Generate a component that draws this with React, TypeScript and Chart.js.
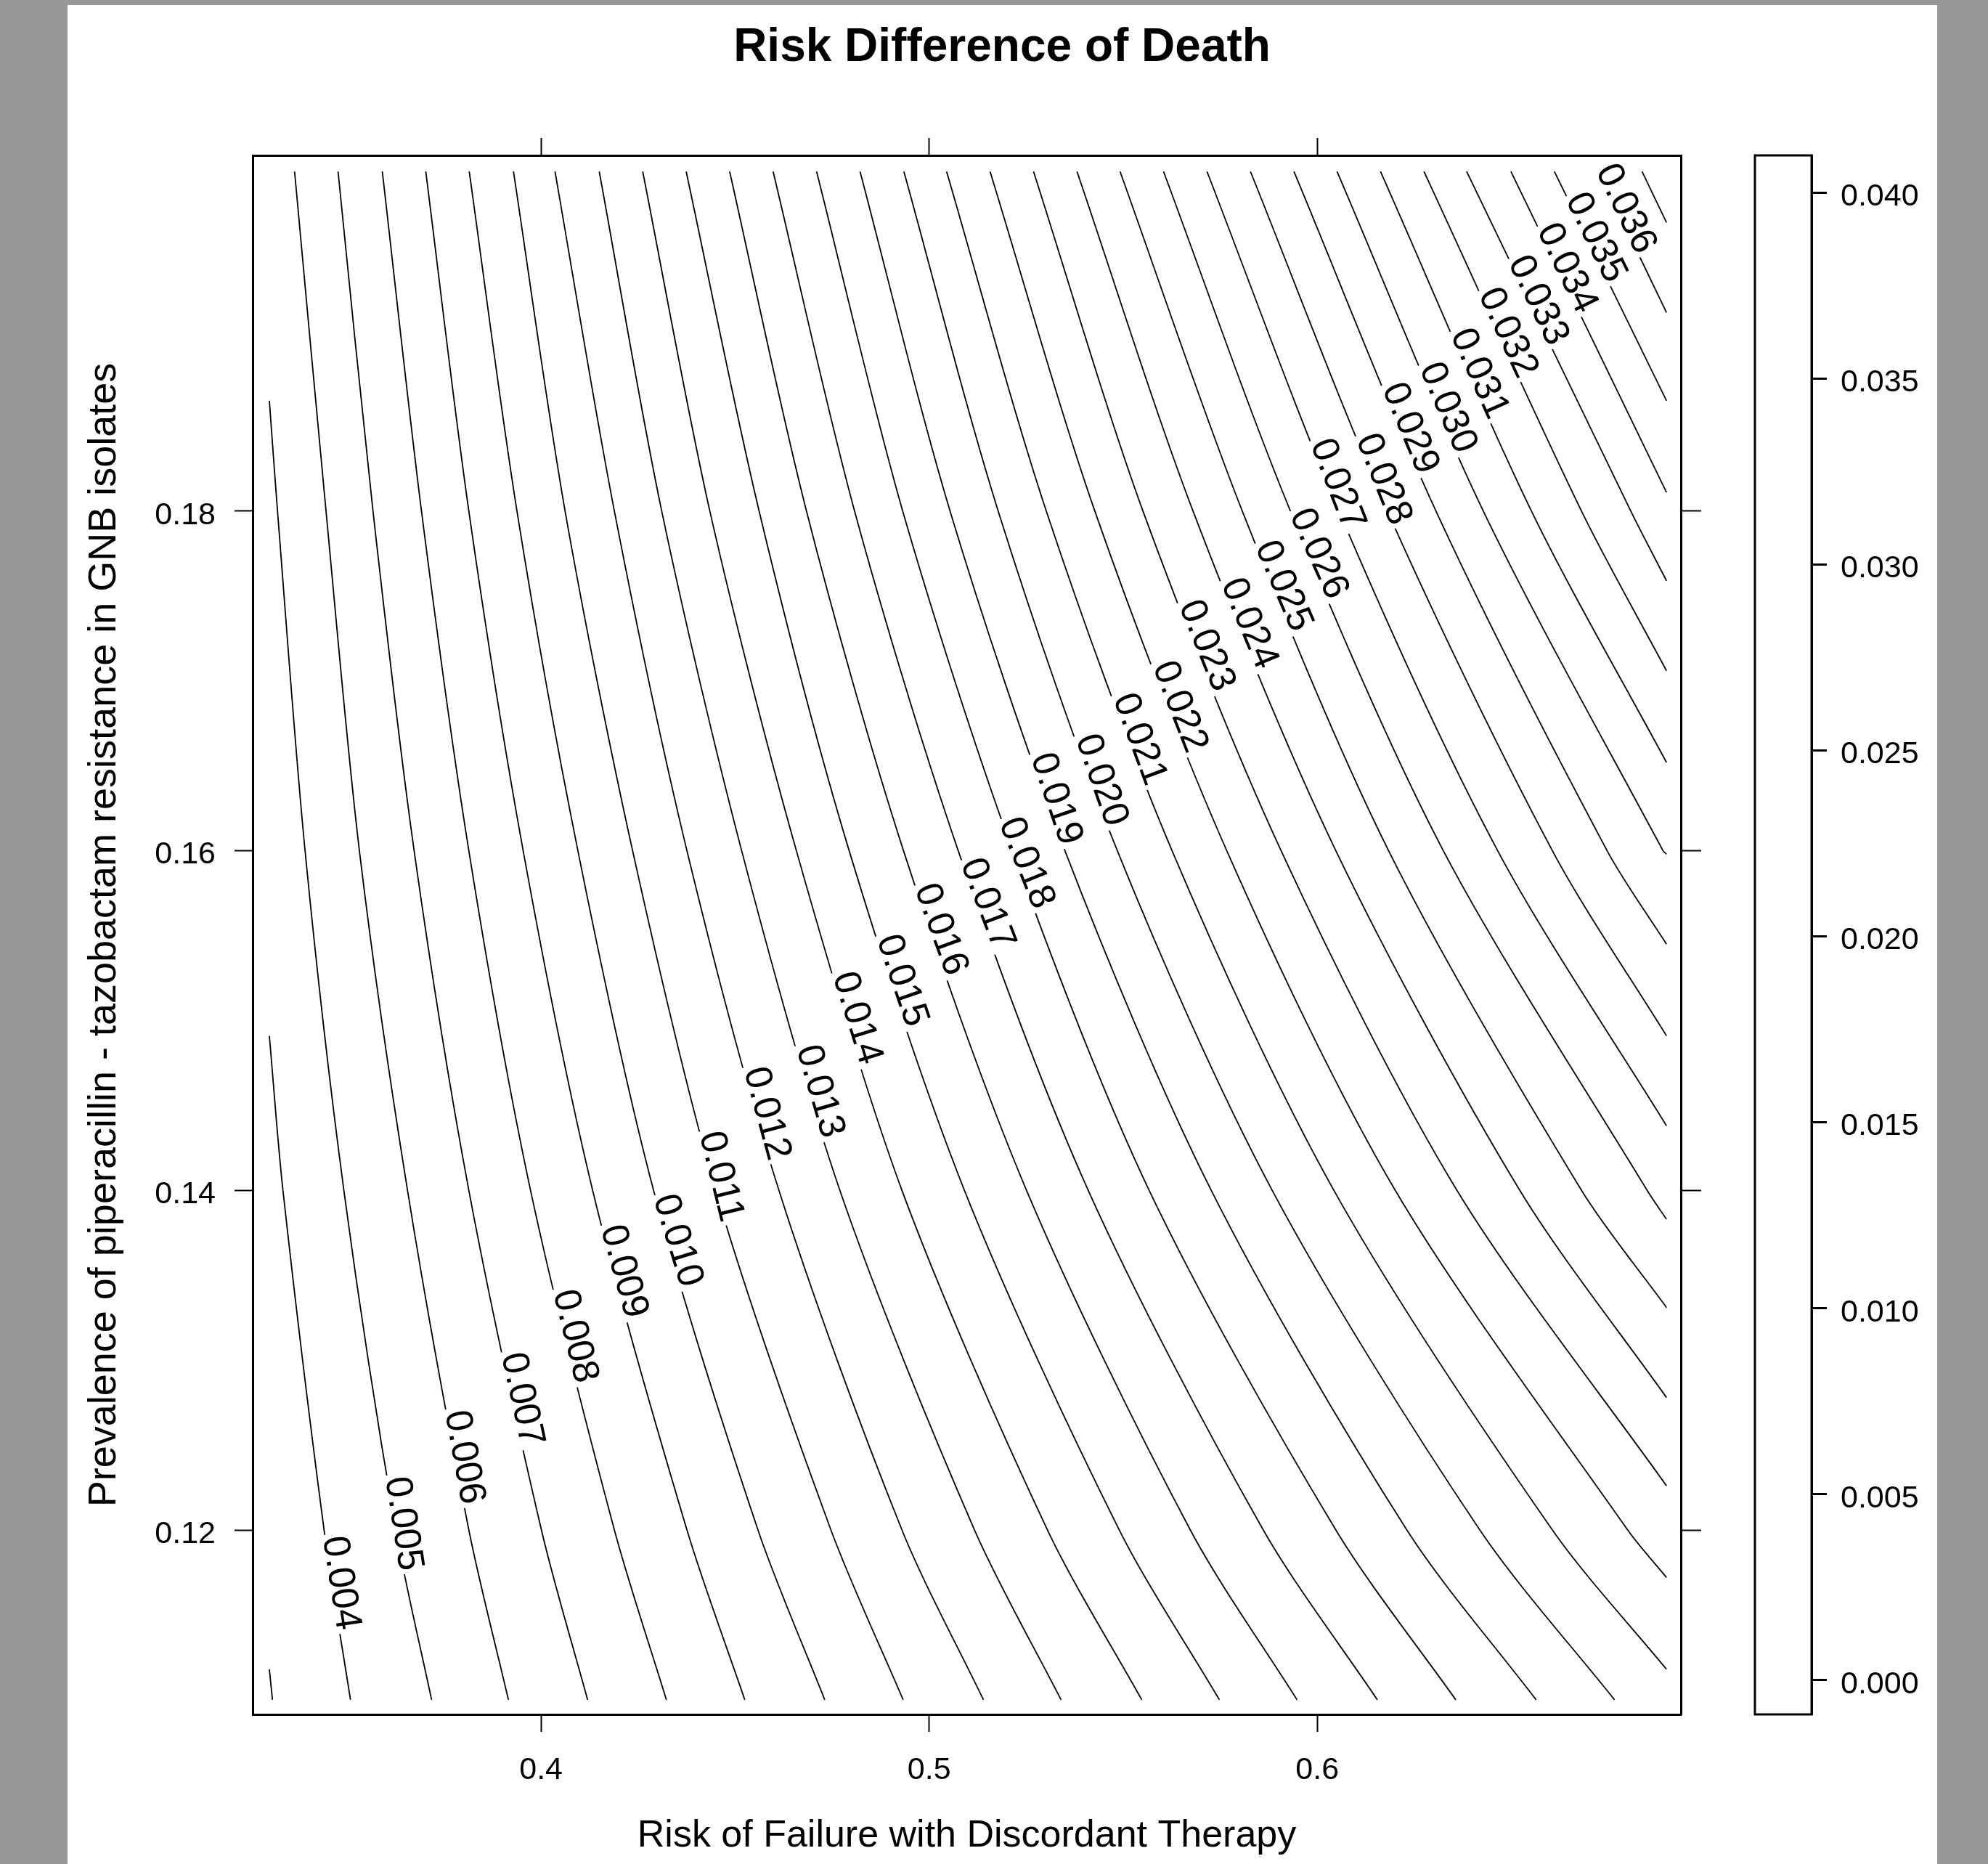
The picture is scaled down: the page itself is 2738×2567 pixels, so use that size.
import React, { useEffect, useRef } from "react";
import { Chart, registerables } from "chart.js";

Chart.register(...registerables);

const FONT = "'Liberation Sans', Arial, Helvetica, sans-serif";

// ---------------- data ----------------
const chartTitle = "Risk Difference of Death";
const xTitle = "Risk of Failure with Discordant Therapy";
const yTitle = "Prevalence of piperacillin - tazobactam resistance in GNB isolates";

const contourLevels = [
  0.003, 0.004, 0.005, 0.006, 0.007, 0.008, 0.009, 0.01, 0.011, 0.012, 0.013, 0.014,
  0.015, 0.016, 0.017, 0.018, 0.019, 0.02, 0.021, 0.022, 0.023, 0.024, 0.025, 0.026,
  0.027, 0.028, 0.029, 0.03, 0.031, 0.032, 0.033, 0.034, 0.035, 0.036, 0.037,
];

// y values of the rows where each contour's x position was read
const rowY = [0.2, 0.18, 0.16, 0.14, 0.12, 0.11];

// x position of each contour level on each row (null = contour not on that row)
const xAtY020 = [
  null, null, null, 0.3365, 0.3477, 0.3591, 0.3703, 0.3815, 0.3929, 0.4036, 0.415, 0.4262,
  0.4374, 0.4486, 0.4598, 0.471, 0.4822, 0.4935, 0.5045, 0.5157, 0.5269, 0.5381, 0.5492, 0.5604,
  0.5716, 0.5828, 0.594, 0.6051, 0.6163, 0.6275, 0.6385, 0.6499, 0.6611, 0.6725, 0.6837,
];
const xAtY018 = [
  null, null, 0.3321, 0.3446, 0.3567, 0.3692, 0.3814, 0.3938, 0.4062, 0.4189, 0.4311, 0.4435,
  0.4562, 0.4684, 0.4808, 0.4932, 0.5054, 0.5178, 0.5302, 0.5427, 0.5551, 0.568, 0.5807, 0.5931,
  0.6056, 0.6181, 0.6306, 0.6428, 0.6552, 0.6681, 0.6808, null, null, null, null,
];
const xAtY016 = [
  null, null, 0.3392, 0.3532, 0.3673, 0.3814, 0.3954, 0.4095, 0.4236, 0.4376, 0.4517, 0.4658,
  0.4794, 0.4934, 0.5075, 0.5215, 0.535, 0.5485, 0.5626, 0.5767, 0.5907, 0.6048, 0.6184, 0.6325,
  0.6465, 0.6606, 0.6747, 0.6891, null, null, null, null, null, null, null,
];
const xAtY014 = [
  null, 0.3335, 0.3492, 0.3656, 0.3814, 0.3973, 0.4133, 0.429, 0.445, 0.4613, 0.477, 0.493,
  0.5091, 0.5251, 0.541, 0.5567, 0.5727, 0.5884, 0.6043, 0.6201, 0.636, 0.6522, 0.6681, 0.685,
  null, null, null, null, null, null, null, null, null, null, null,
];
const xAtY012 = [
  null, 0.3441, 0.3626, 0.3814, 0.4001, 0.4189, 0.4376, 0.4559, 0.4747, 0.493, 0.5117, 0.5305,
  0.549, 0.5673, 0.5861, 0.6048, 0.6231, 0.6419, 0.6606, 0.68, null, null, null, null,
  null, null, null, null, null, null, null, null, null, null, null,
];
const xAtY011 = [
  0.3308, 0.3509, 0.3718, 0.3916, 0.412, 0.4323, 0.4525, 0.4731, 0.4933, 0.514, 0.534, 0.5548,
  0.5748, 0.5948, 0.6155, 0.6357, 0.6564, 0.6766, null, null, null, null, null, null,
  null, null, null, null, null, null, null, null, null, null, null,
];

// x extent of the computed grid (contours end there)
const gridXRange = [0.33, 0.69];

// y where a contour leaves the grid on its left / right side
const leftExitY = [
  0.1118, 0.1491, 0.1865, null, null, null, null, null, null, null, null, null,
  null, null, null, null, null, null, null, null, null, null, null, null,
  null, null, null, null, null, null, null, null, null, null, null,
];
const rightExitY = [
  null, null, null, null, null, null, null, null, null, null, null, null,
  null, null, null, null, null, null, 0.1118, 0.1172, 0.1226, 0.1278, 0.1331, 0.1383,
  0.1438, 0.1491, 0.1545, 0.1598, 0.1652, 0.1706, 0.1759, 0.1811, 0.1865, 0.1917, 0.197,
];

// y value at which each contour carries its label
const labelY = [
  null, 0.1168, 0.1203, 0.1242, 0.1276, 0.1313, 0.1351, 0.1369, 0.1407, 0.1444, 0.1457, 0.15,
  0.1522, 0.1552, 0.1567, 0.1591, 0.1629, 0.164, 0.1664, 0.1683, 0.1719, 0.1732, 0.1754, 0.1773,
  0.1814, 0.1817, 0.1847, 0.1859, 0.1879, 0.1903, 0.1922, 0.1941, 0.1959, 0.1976, null,
];

const xTicks = [0.4, 0.5, 0.6];
const yTicks = [0.12, 0.14, 0.16, 0.18];
const colorTicks = [0, 0.005, 0.01, 0.015, 0.02, 0.025, 0.03, 0.035, 0.04];

const xRange = [0.3257, 0.6937];
const yRange = [0.10914, 0.20095];
const colorRange = [-0.00092, 0.041];

const xRows = [xAtY020, xAtY018, xAtY016, xAtY014, xAtY012, xAtY011];

function contourPoints(i: number) {
  const pts: { x: number; y: number }[] = [];
  rowY.forEach((y, r) => {
    const x = xRows[r][i];
    if (x != null) pts.push({ x, y });
  });
  if (leftExitY[i] != null) pts.push({ x: gridXRange[0], y: leftExitY[i] as number });
  if (rightExitY[i] != null) pts.push({ x: gridXRange[1], y: rightExitY[i] as number });
  pts.sort((a, b) => b.y - a.y);
  return pts;
}

// ---------------- plugins ----------------
const backgroundPlugin = {
  id: "pageBackground",
  beforeDraw(chart: any) {
    const ctx = chart.ctx;
    ctx.save();
    ctx.fillStyle = "#989898";
    ctx.fillRect(0, 0, chart.width, chart.height);
    ctx.fillStyle = "#ffffff";
    ctx.fillRect(93, 7, 2575, chart.height - 7);
    ctx.restore();
  },
};

const titlePlugin = {
  id: "mainTitle",
  afterDraw(chart: any) {
    const ctx = chart.ctx;
    ctx.save();
    ctx.fillStyle = "#000";
    ctx.font = `bold 64px ${FONT}`;
    ctx.textAlign = "center";
    ctx.textBaseline = "alphabetic";
    ctx.fillText(chartTitle, 1380, 84);
    ctx.restore();
  },
};

const colorBarPlugin = {
  id: "colorBar",
  afterDraw(chart: any) {
    const cb = chart.scales.cb;
    const ctx = chart.ctx;
    ctx.save();
    ctx.strokeStyle = "#000";
    ctx.lineWidth = 3;
    ctx.strokeRect(cb.left - 78, cb.top, 78, cb.bottom - cb.top);
    ctx.restore();
  },
};

const contourLabelPlugin = {
  id: "contourLabels",
  afterDatasetsDraw(chart: any) {
    const xs = chart.scales.x;
    const ys = chart.scales.y;
    const ctx = chart.ctx;
    const area = chart.chartArea;
    const side = 13; // label sits slightly to the right of its line
    ctx.save();
    ctx.beginPath();
    ctx.rect(area.left, area.top, area.right - area.left, area.bottom - area.top);
    ctx.clip();
    ctx.font = `52px ${FONT}`;
    contourLevels.forEach((lev, i) => {
      const ly = labelY[i];
      if (ly == null) return;
      const pts = contourPoints(i);
      for (let k = 0; k < pts.length - 1; k++) {
        const a = pts[k];
        const b = pts[k + 1];
        if (ly <= a.y && ly >= b.y) {
          const t = (a.y - ly) / (a.y - b.y);
          const x = a.x + t * (b.x - a.x);
          const px = xs.getPixelForValue(x);
          const py = ys.getPixelForValue(ly);
          const ax = xs.getPixelForValue(a.x);
          const ay = ys.getPixelForValue(a.y);
          const bx = xs.getPixelForValue(b.x);
          const by = ys.getPixelForValue(b.y);
          const ang = Math.atan2(by - ay, bx - ax);
          const text = lev.toFixed(3);
          const w = ctx.measureText(text).width;
          ctx.save();
          ctx.translate(px, py);
          ctx.rotate(ang);
          ctx.fillStyle = "#fff";
          ctx.fillRect(-w / 2 - 4, -side - 17, w + 8, side + 32);
          ctx.fillStyle = "#000";
          ctx.textAlign = "center";
          ctx.textBaseline = "middle";
          ctx.fillText(text, 0, 2 - side);
          ctx.restore();
          break;
        }
      }
    });
    ctx.restore();
  },
};

// ---------------- component ----------------
export default function App() {
  const canvasRef = useRef<HTMLCanvasElement | null>(null);

  useEffect(() => {
    if (!canvasRef.current) return;

    const datasets = contourLevels.map((lev, i) => ({
      label: lev.toFixed(3),
      data: contourPoints(i),
      showLine: true,
      borderColor: "#000",
      borderWidth: 1.8,
      pointRadius: 0,
      pointHoverRadius: 0,
      tension: 0.3,
      fill: false,
      xAxisID: "x",
      yAxisID: "y",
    }));

    const tickFont = { family: FONT, size: 43 };
    const gridBase = {
      drawOnChartArea: false,
      drawTicks: true,
      tickWidth: 2,
      tickColor: "#000",
    };
    const borderBase = { display: true, color: "#000", width: 3 };

    const chart = new Chart(canvasRef.current, {
      type: "scatter",
      data: { datasets },
      plugins: [backgroundPlugin, colorBarPlugin, contourLabelPlugin, titlePlugin],
      options: {
        animation: false,
        responsive: false,
        devicePixelRatio: 1,
        events: [],
        layout: { padding: 0 },
        plugins: {
          legend: { display: false },
          tooltip: { enabled: false },
          title: { display: false },
        },
        scales: {
          x: {
            type: "linear",
            position: "bottom",
            min: xRange[0],
            max: xRange[1],
            afterBuildTicks: (s: any) => {
              s.ticks = xTicks.map((v) => ({ value: v }));
            },
            afterFit: (s: any) => {
              s.height = 206;
            },
            ticks: {
              color: "#000",
              font: tickFont,
              padding: 27,
              maxRotation: 0,
              callback: (v: any) => String(Number(v).toFixed(1)),
            },
            grid: { ...gridBase, tickLength: 24 },
            border: borderBase,
            title: {
              display: true,
              text: xTitle,
              color: "#000",
              font: { family: FONT, size: 52 },
              padding: { top: 0, bottom: 7 },
            },
          },
          x2: {
            type: "linear",
            axis: "x",
            position: "top",
            min: xRange[0],
            max: xRange[1],
            afterBuildTicks: (s: any) => {
              s.ticks = xTicks.map((v) => ({ value: v }));
            },
            afterFit: (s: any) => {
              s.height = 214;
            },
            ticks: { display: false },
            grid: { ...gridBase, tickLength: 24 },
            border: borderBase,
          },
          y: {
            type: "linear",
            position: "left",
            min: yRange[0],
            max: yRange[1],
            afterBuildTicks: (s: any) => {
              s.ticks = yTicks.map((v) => ({ value: v }));
            },
            afterFit: (s: any) => {
              s.width = 348;
            },
            ticks: {
              color: "#000",
              font: tickFont,
              padding: 26,
              labelOffset: 6,
              callback: (v: any) => String(Number(v).toFixed(2)),
            },
            grid: { ...gridBase, tickLength: 25 },
            border: borderBase,
            title: {
              display: true,
              text: yTitle,
              color: "#000",
              font: { family: FONT, size: 54 },
              padding: { top: 112, bottom: 0 },
            },
          },
          y2: {
            type: "linear",
            axis: "y",
            position: "right",
            weight: 1,
            min: yRange[0],
            max: yRange[1],
            afterBuildTicks: (s: any) => {
              s.ticks = yTicks.map((v) => ({ value: v }));
            },
            afterFit: (s: any) => {
              s.width = 180;
            },
            ticks: { display: false },
            grid: { ...gridBase, tickLength: 28 },
            border: borderBase,
          },
          cb: {
            type: "linear",
            axis: "y",
            position: "right",
            weight: 2,
            min: colorRange[0],
            max: colorRange[1],
            afterBuildTicks: (s: any) => {
              s.ticks = colorTicks.map((v) => ({ value: v }));
            },
            afterFit: (s: any) => {
              s.width = 243;
            },
            ticks: {
              color: "#000",
              font: tickFont,
              padding: 19,
              labelOffset: 6,
              callback: (v: any) => Number(v).toFixed(3),
            },
            grid: { ...gridBase, tickLength: 21, tickWidth: 3 },
            border: borderBase,
          },
        },
      } as any,
    });

    return () => {
      chart.destroy();
    };
  }, []);

  return (
    <div style={{ position: "absolute", left: 0, top: 0, width: 2738, height: 2567 }}>
      <canvas
        ref={canvasRef}
        width={2738}
        height={2567}
        style={{ display: "block", width: 2738, height: 2567 }}
      />
    </div>
  );
}
